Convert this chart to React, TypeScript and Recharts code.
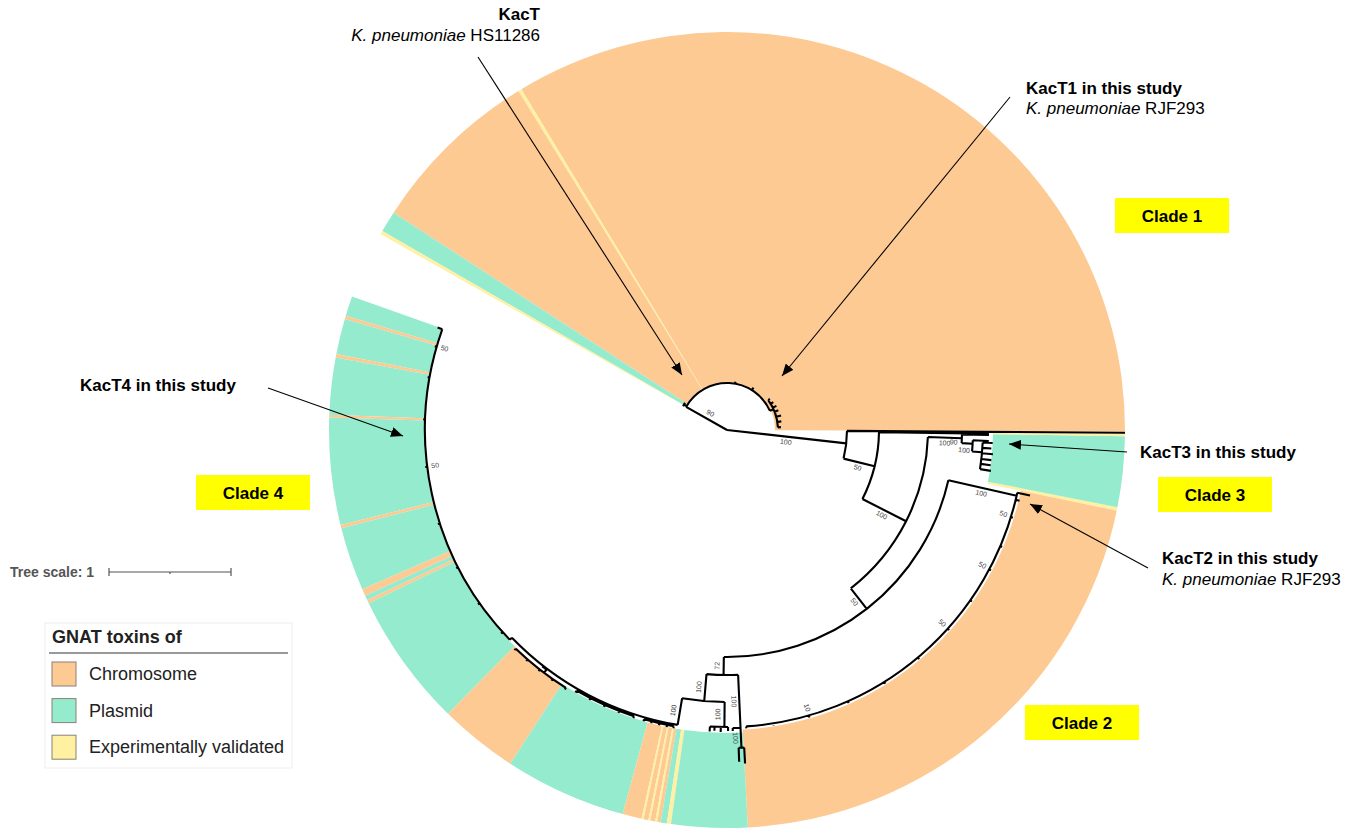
import React from 'react';
import { PieChart, Pie, Cell } from 'recharts';

// ---------- geometry of the circular tree ----------
const CX = 727;
const CY = 430;
const R_OUT = 398;
const FONT = '"Liberation Sans", Arial, sans-serif';

const COLORS: Record<string, string> = {
  Chromosome: '#FDCA94',
  Plasmid: '#95EBCE',
  'Experimentally validated': '#FFF0A2',
};

// ---------- colored clade ranges (spans in degrees, counter-clockwise from start) ----------
const clade1Start = -0.2;
const clade1Inner = 48;
const clade1Ranges = [
  { type: 'Chromosome', span: 121.3 },
  { type: 'Experimentally validated', span: 0.5 },
  { type: 'Chromosome', span: 25.3 },
  { type: 'Plasmid', span: 3.1 },
  { type: 'Experimentally validated', span: 0.5 },
];

const clade3Start = -11.7;
const clade3Inner = 266;
const clade3Ranges = [
  { type: 'Experimentally validated', span: 0.5 },
  { type: 'Plasmid', span: 10.3 },
  { type: 'Experimentally validated', span: 0.4 },
];

const clade2Start = -87;
const clade2Inner = 300;
const clade2Ranges = [{ type: 'Chromosome', span: 75.3 }];

const clade4Start = 160.4;
const clade4Inner = 303;
const clade4Ranges = [
  { type: 'Plasmid', span: 2.9 },
  { type: 'Chromosome', span: 0.5 },
  { type: 'Plasmid', span: 5.2 },
  { type: 'Chromosome', span: 0.5 },
  { type: 'Plasmid', span: 8.3 },
  { type: 'Chromosome', span: 0.4 },
  { type: 'Plasmid', span: 15.6 },
  { type: 'Chromosome', span: 0.5 },
  { type: 'Plasmid', span: 9.3 },
  { type: 'Chromosome', span: 1.0 },
  { type: 'Plasmid', span: 0.7 },
  { type: 'Chromosome', span: 0.5 },
  { type: 'Plasmid', span: 19.7 },
  { type: 'Chromosome', span: 11.5 },
  { type: 'Plasmid', span: 17.8 },
  { type: 'Chromosome', span: 2.8 },
  { type: 'Experimentally validated', span: 0.3 },
  { type: 'Chromosome', span: 0.7 },
  { type: 'Experimentally validated', span: 0.3 },
  { type: 'Chromosome', span: 0.7 },
  { type: 'Experimentally validated', span: 0.3 },
  { type: 'Chromosome', span: 0.5 },
  { type: 'Plasmid', span: 0.9 },
  { type: 'Experimentally validated', span: 0.6 },
  { type: 'Plasmid', span: 11.1 },
];

// ---------- tree nodes (polar: a = angle in degrees, r = radius) ----------
type TreeNode = { id: string; parent: string; a: number; r: number; label?: string };

const treeNodes: TreeNode[] = [
  { id: 'root', parent: '', a: 0, r: 0 },
  // clade 1
  { id: 'c1', parent: 'root', a: 150.5, r: 47, label: '90' },
  { id: 'c1a', parent: 'c1', a: 149.5, r: 49 },
  { id: 'c1a1', parent: 'c1a', a: 150.3, r: 51 },
  { id: 'c1a2', parent: 'c1a', a: 148.2, r: 51 },
  { id: 'c1l1', parent: 'c1', a: 80, r: 49 },
  { id: 'c1l2', parent: 'c1', a: 58, r: 50 },
  { id: 'c1b', parent: 'c1', a: 24, r: 51 },
  { id: 'c1b1', parent: 'c1b', a: 36, r: 53 },
  { id: 'c1b2', parent: 'c1b', a: 31, r: 54 },
  { id: 'c1b3', parent: 'c1b', a: 26, r: 55 },
  { id: 'c1b4', parent: 'c1b', a: 21, r: 55 },
  { id: 'c1b5', parent: 'c1b', a: 15, r: 56 },
  { id: 'c1b6', parent: 'c1b', a: 9, r: 55 },
  { id: 'c1b7', parent: 'c1b', a: 3, r: 54 },
  // clades 2 and 3
  { id: 'n1', parent: 'root', a: -6.4, r: 120, label: '100' },
  { id: 'lT1', parent: 'n1', a: -0.4, r: 398 },
  { id: 'n2', parent: 'n1', a: -13.8, r: 152, label: '50' },
  { id: 'lT2', parent: 'n2', a: -0.8, r: 262 },
  { id: 'n3', parent: 'n2', a: -27, r: 201, label: '100' },
  { id: 'n9', parent: 'n3', a: -2, r: 235, label: '100' },
  { id: 'l9a', parent: 'n9', a: -1.1, r: 262 },
  { id: 'n11', parent: 'n9', a: -3.2, r: 246, label: '90' },
  { id: 'l11a', parent: 'n11', a: -2.4, r: 262 },
  { id: 'n12', parent: 'n11', a: -5, r: 256, label: '100' },
  { id: 'l12a', parent: 'n12', a: -2.8, r: 266 },
  { id: 'l12b', parent: 'n12', a: -4, r: 265 },
  { id: 'l12c', parent: 'n12', a: -5.2, r: 267 },
  { id: 'l12d', parent: 'n12', a: -6.5, r: 266 },
  { id: 'l12e', parent: 'n12', a: -7.6, r: 266 },
  { id: 'l12f', parent: 'n12', a: -8.8, r: 267 },
  { id: 'n4', parent: 'n3', a: -52, r: 227, label: '50' },
  { id: 'n5', parent: 'n4', a: -12.8, r: 297, label: '100' },
  { id: 'l5a', parent: 'n5', a: -12.2, r: 310 },
  { id: 'l5b', parent: 'n5', a: -13.6, r: 301 },
  { id: 'l5c', parent: 'n5', a: -17, r: 299, label: '50' },
  { id: 'l5d', parent: 'n5', a: -23, r: 299 },
  { id: 'l5e', parent: 'n5', a: -28, r: 299, label: '50' },
  { id: 'l5f', parent: 'n5', a: -35, r: 299 },
  { id: 'l5g', parent: 'n5', a: -42, r: 299, label: '50' },
  { id: 'l5h', parent: 'n5', a: -50, r: 299 },
  { id: 'l5i', parent: 'n5', a: -58, r: 299 },
  { id: 'l5j', parent: 'n5', a: -66, r: 299 },
  { id: 'l5k', parent: 'n5', a: -74, r: 299, label: '10' },
  { id: 'l5l', parent: 'n5', a: -81, r: 299 },
  { id: 'l5m', parent: 'n5', a: -86.3, r: 299 },
  { id: 'n6', parent: 'n4', a: -90.8, r: 245, label: '72' },
  { id: 'n13', parent: 'n6', a: -87.4, r: 298, label: '100' },
  { id: 'l13a', parent: 'n13', a: -88.9, r: 301 },
  { id: 'n13b', parent: 'n13', a: -87.4, r: 318, label: '100' },
  { id: 'l13b', parent: 'n13b', a: -86.9, r: 334 },
  { id: 'l13c', parent: 'n13b', a: -87.9, r: 332 },
  { id: 'n7', parent: 'n6', a: -94.8, r: 272, label: '100' },
  { id: 'n14', parent: 'n7', a: -90.5, r: 297, label: '100' },
  { id: 'l14a', parent: 'n14', a: -89.8, r: 301 },
  { id: 'l14b', parent: 'n14', a: -91.2, r: 302 },
  { id: 'l14c', parent: 'n14', a: -92.4, r: 301 },
  { id: 'l14d', parent: 'n14', a: -93.3, r: 302 },
  // clade 4 and the lower groups
  { id: 'n8', parent: 'n7', a: -99.5, r: 299, label: '100' },
  { id: 'n15', parent: 'n8', a: -102.5, r: 301 },
  { id: 'l15a', parent: 'n15', a: -100.2, r: 303 },
  { id: 'l15b', parent: 'n15', a: -101.5, r: 303 },
  { id: 'l15c', parent: 'n15', a: -103, r: 303 },
  { id: 'l15d', parent: 'n15', a: -104.5, r: 303 },
  { id: 'l15e', parent: 'n15', a: -106, r: 303 },
  { id: 'n16', parent: 'n8', a: -114, r: 301 },
  { id: 'l16a', parent: 'n16', a: -108, r: 303 },
  { id: 'l16b', parent: 'n16', a: -111, r: 303 },
  { id: 'l16c', parent: 'n16', a: -114, r: 303 },
  { id: 'l16d', parent: 'n16', a: -117, r: 303 },
  { id: 'l16e', parent: 'n16', a: -120, r: 303 },
  { id: 'n17', parent: 'n8', a: -128, r: 300 },
  { id: 'n17b', parent: 'n17', a: -127, r: 304 },
  { id: 'l17a', parent: 'n17b', a: -122, r: 306 },
  { id: 'l17b', parent: 'n17b', a: -125, r: 306 },
  { id: 'l17c', parent: 'n17b', a: -128, r: 306 },
  { id: 'l17d', parent: 'n17b', a: -131, r: 306 },
  { id: 'l17e', parent: 'n17b', a: -134, r: 306 },
  { id: 'n18', parent: 'n8', a: -136, r: 302 },
  { id: 'l18a', parent: 'n18', a: -138, r: 304 },
  { id: 'l18b', parent: 'n18', a: -145, r: 304 },
  { id: 'l18c', parent: 'n18', a: -153, r: 304 },
  { id: 'l18d', parent: 'n18', a: -162, r: 304 },
  { id: 'l18e', parent: 'n18', a: -173, r: 304, label: '50' },
  { id: 'l18f', parent: 'n18', a: -182, r: 304 },
  { id: 'l18g', parent: 'n18', a: -190, r: 304 },
  { id: 'l18h', parent: 'n18', a: -196, r: 304, label: '50' },
  { id: 'l18i', parent: 'n18', a: -199.5, r: 307 },
];

// ---------- legend and annotation texts ----------
const legendTitle = 'GNAT toxins of';
const legendItems = ['Chromosome', 'Plasmid', 'Experimentally validated'];
const cladeLabels = ['Clade 1', 'Clade 2', 'Clade 3', 'Clade 4'];

const sum = (arr: { span: number }[]) => arr.reduce((s, d) => s + d.span, 0);

const rings = [
  { key: 'clade1', start: clade1Start, inner: clade1Inner, data: clade1Ranges },
  { key: 'clade3', start: clade3Start, inner: clade3Inner, data: clade3Ranges },
  { key: 'clade2', start: clade2Start, inner: clade2Inner, data: clade2Ranges },
  { key: 'clade4', start: clade4Start, inner: clade4Inner, data: clade4Ranges },
];

function polar(a: number, r: number): [number, number] {
  const t = (a * Math.PI) / 180;
  return [CX + r * Math.cos(t), CY - r * Math.sin(t)];
}

function arcPath(r: number, a1: number, a2: number) {
  const lo = Math.min(a1, a2);
  const hi = Math.max(a1, a2);
  const [x1, y1] = polar(lo, r);
  const [x2, y2] = polar(hi, r);
  const large = hi - lo > 180 ? 1 : 0;
  return `M${x1.toFixed(2)},${y1.toFixed(2)} A${r},${r} 0 ${large} 0 ${x2.toFixed(2)},${y2.toFixed(2)}`;
}

function readableRotation(a: number) {
  let rot = -a;
  while (rot > 90) rot -= 180;
  while (rot <= -90) rot += 180;
  return rot;
}

const TreeLayer = () => {
  const byId: Record<string, TreeNode> = {};
  treeNodes.forEach((n) => (byId[n.id] = n));
  const children: Record<string, TreeNode[]> = {};
  treeNodes.forEach((n) => {
    if (n.parent) (children[n.parent] = children[n.parent] || []).push(n);
  });

  const paths: string[] = [];
  treeNodes.forEach((n) => {
    const kids = children[n.id];
    if (kids && n.r > 0) {
      const angs = kids.map((k) => k.a).concat([n.a]);
      paths.push(arcPath(n.r, Math.min(...angs), Math.max(...angs)));
    }
    if (n.parent) {
      const p = byId[n.parent];
      const [x1, y1] = polar(n.a, p.r);
      const [x2, y2] = polar(n.a, n.r);
      paths.push(`M${x1.toFixed(2)},${y1.toFixed(2)} L${x2.toFixed(2)},${y2.toFixed(2)}`);
    }
  });

  const labels = treeNodes
    .filter((n) => n.label)
    .map((n) => {
      const p = byId[n.parent];
      let pos: [number, number];
      if (n.r - p.r < 15) {
        pos = polar(n.a, p.r - 8);
      } else {
        const rm = (n.r + p.r) / 2;
        const off = (6 / rm) * (180 / Math.PI);
        pos = polar(n.a - off, rm);
      }
      return { text: n.label as string, x: pos[0], y: pos[1], rot: readableRotation(n.a) };
    });

  return (
    <g>
      <path d={paths.join(' ')} fill="none" stroke="#000" strokeWidth={2.1} strokeLinejoin="round" />
      {labels.map((l, i) => (
        <text
          key={i}
          x={l.x}
          y={l.y}
          fontSize={7}
          fill="#444"
          fontFamily={FONT}
          textAnchor="middle"
          dominantBaseline="middle"
          transform={`rotate(${l.rot} ${l.x} ${l.y})`}
        >
          {l.text}
        </text>
      ))}
    </g>
  );
};

const Arrow = ({ x1, y1, x2, y2 }: { x1: number; y1: number; x2: number; y2: number }) => (
  <line x1={x1} y1={y1} x2={x2} y2={y2} stroke="#000" strokeWidth={1.1} markerEnd="url(#ahead)" />
);

const CladeBox = ({ x, y, text }: { x: number; y: number; text: string }) => (
  <g>
    <rect x={x} y={y} width={114} height={35} fill="#FFFF00" />
    <text x={x + 57} y={y + 23.5} textAnchor="middle" fontFamily={FONT} fontWeight="bold" fontSize={17} fill="#000">
      {text}
    </text>
  </g>
);

const AnnotationLayer = () => (
  <g fontFamily={FONT}>
    <defs>
      <marker id="ahead" viewBox="0 0 12 10" refX="12" refY="5" markerWidth="12" markerHeight="10" markerUnits="userSpaceOnUse" orient="auto">
        <path d="M0,0 L12,5 L0,10 z" fill="#000" />
      </marker>
    </defs>

    {/* arrows */}
    <Arrow x1={478} y1={57} x2={682} y2={375} />
    <Arrow x1={1010} y1={97} x2={782} y2={376} />
    <Arrow x1={1127} y1={452} x2={1009} y2={444} />
    <Arrow x1={1148} y1={568} x2={1030} y2={504} />
    <Arrow x1={268} y1={388} x2={403} y2={436} />

    {/* KacT */}
    <text x={540} y={20} textAnchor="end" fontWeight="bold" fontSize={17} fill="#000">KacT</text>
    <text x={540} y={41} textAnchor="end" fontSize={17} fill="#000">
      <tspan fontStyle="italic">K. pneumoniae</tspan> HS11286
    </text>

    {/* KacT1 */}
    <text x={1026} y={94} fontWeight="bold" fontSize={17} fill="#000">KacT1 in this study</text>
    <text x={1026} y={114} fontSize={17} fill="#000">
      <tspan fontStyle="italic">K. pneumoniae</tspan> RJF293
    </text>

    {/* KacT3 */}
    <text x={1140} y={458} fontWeight="bold" fontSize={17} fill="#000">KacT3 in this study</text>

    {/* KacT2 */}
    <text x={1162} y={564} fontWeight="bold" fontSize={17} fill="#000">KacT2 in this study</text>
    <text x={1162} y={585} fontSize={17} fill="#000">
      <tspan fontStyle="italic">K. pneumoniae</tspan> RJF293
    </text>

    {/* KacT4 */}
    <text x={80} y={391} fontWeight="bold" fontSize={17} fill="#000">KacT4 in this study</text>

    {/* clade boxes */}
    <CladeBox x={1115} y={198} text={cladeLabels[0]} />
    <CladeBox x={1025} y={705} text={cladeLabels[1]} />
    <CladeBox x={1158} y={477} text={cladeLabels[2]} />
    <CladeBox x={196} y={475} text={cladeLabels[3]} />

    {/* tree scale */}
    <text x={10} y={577} fontWeight="bold" fontSize={14} fill="#555">Tree scale: 1</text>
    <line x1={109} y1={572} x2={231} y2={572} stroke="#555" strokeWidth={1.2} />
    <line x1={109} y1={568} x2={109} y2={576} stroke="#555" strokeWidth={1.2} />
    <line x1={231} y1={568} x2={231} y2={576} stroke="#555" strokeWidth={1.2} />
    <line x1={170} y1={572} x2={170} y2={574} stroke="#555" strokeWidth={1.2} />

    {/* legend */}
    <rect x={45} y={623} width={247} height={145} fill="#fff" stroke="#eeeeee" strokeWidth={1} />
    <text x={52} y={643} fontWeight="bold" fontSize={18} fill="#222">{legendTitle}</text>
    <line x1={49} y1={653} x2={288} y2={653} stroke="#777" strokeWidth={1.5} />
    {legendItems.map((item, i) => (
      <g key={item}>
        <rect x={52} y={662 + i * 36.6} width={24} height={24} fill={COLORS[item]} stroke="#8a8078" strokeWidth={1} />
        <text x={89} y={680 + i * 36.6} fontSize={18} fill="#222">{item}</text>
      </g>
    ))}
  </g>
);

export default function App() {
  return (
    <div style={{ position: 'absolute', left: 0, top: 0, width: 1360, height: 830, background: '#fff' }}>
      <PieChart width={1360} height={830} margin={{ top: 0, right: 0, bottom: 0, left: 0 }}>
        {rings.map((ring) => (
          <Pie
            key={ring.key}
            data={ring.data}
            dataKey="span"
            nameKey="type"
            cx={CX}
            cy={CY}
            innerRadius={ring.inner}
            outerRadius={R_OUT}
            startAngle={ring.start}
            endAngle={ring.start + sum(ring.data)}
            paddingAngle={0}
            stroke="none"
            isAnimationActive={false}
          >
            {ring.data.map((d, i) => (
              <Cell key={i} fill={COLORS[d.type]} stroke="none" />
            ))}
          </Pie>
        ))}
      </PieChart>
      <svg
        width={1360}
        height={830}
        style={{ position: 'absolute', left: 0, top: 0, pointerEvents: 'none' }}
      >
        <TreeLayer />
        <AnnotationLayer />
      </svg>
    </div>
  );
}
